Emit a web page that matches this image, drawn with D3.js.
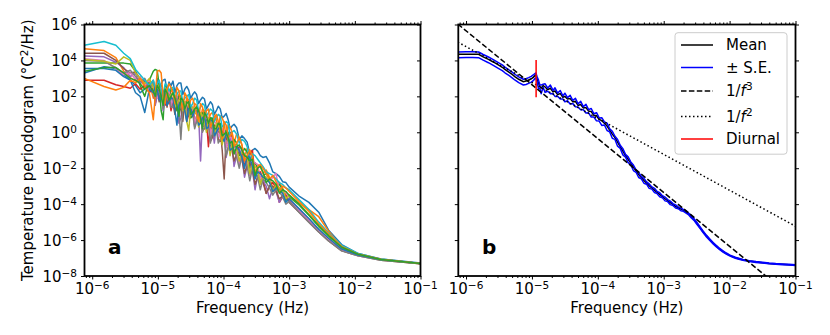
<!DOCTYPE html>
<html>
<head>
<meta charset="utf-8">
<script src="https://cdn.jsdelivr.net/npm/d3@7"></script>
<style>
body { margin: 0; background: #fff; }
text { font-family: "DejaVu Sans", sans-serif; fill: #000; }
</style>
</head>
<body>
<div id="chart"></div>
<script>
// ---- data (log10 values) ----

// shared frequency grid of panel a, log10(Hz)
var logFreqA = [
	-6.12, -5.82, -5.64, -5.52, -5.42, -5.34, -5.27, -5.20, -5.13, -5.07,
	-5.04, -5.01, -4.98, -4.95, -4.92, -4.89, -4.86, -4.83, -4.80, -4.77,
	-4.74, -4.71, -4.68, -4.65, -4.62, -4.59, -4.56, -4.53, -4.50, -4.47,
	-4.44, -4.41, -4.38, -4.35, -4.32, -4.29, -4.26, -4.23, -4.20, -4.17,
	-4.14, -4.11, -4.08, -4.05, -4.02, -3.99, -3.96, -3.93, -3.90, -3.87,
	-3.84, -3.80, -3.76, -3.72, -3.68, -3.64, -3.60, -3.56, -3.52, -3.48,
	-3.44, -3.40, -3.35, -3.30, -3.25, -3.20, -3.15, -3.10, -3.05, -3.00,
	-2.85, -2.70, -2.55, -2.40, -2.20, -1.95, -1.60, -1.00
];

// one periodogram per site, log10(°C²/Hz)
var specBlue1 = [
	3.3, 3.65, 3.55, 3.2, 2.9, 2.6, 2.2, 2.4, 2.9, 2.6,
	2.2, 3.0, 2.5, 2.7, 2.9, 2.95, 2.3, 2.8, 2.6, 2.85,
	2.2, 2.6, 2.75, 2.75, 2.1, 2.4, 2.55, 2.35, 1.9, 2.1,
	2.25, 2.1, 1.6, 1.8, 1.95, 1.85, 1.3, 1.5, 1.7, 1.55,
	1.0, 1.2, 1.45, 1.3, 0.8, 0.9, 1.05, 0.7, 0.2, 0.35,
	0.45, 0.25, -0.4, -0.2, -0.35, -0.55, -1.2, -1.0, -0.9, -1.05,
	-1.3, -1.4, -1.35, -1.7, -2.2, -2.3, -2.45, -2.75, -2.8, -3.05,
	-3.55, -3.9, -4.45, -5.45, -6.25, -6.75, -7.05, -7.28
];
var specOrange1 = [
	4.65, 4.55, 4.15, 3.4, 3.05, 2.85, 3.0, 2.5, 2.8, 1.9,
	2.0, 2.6, 2.7, 2.2, 1.5, 2.5, 2.3, 1.6, 2.3, 2.3,
	1.4, 1.9, 2.1, 2.0, 1.5, 1.4, 1.9, 1.8, 0.9, 1.1,
	1.6, 1.5, 1.0, 0.8, 1.3, 1.2, 0.4, 0.6, 1.0, 1.1,
	0.9, 0.7, 0.2, 0.9, 0.8, 0.5, -0.3, 0.4, 0.3, 0.0,
	-0.6, -0.1, -0.3, -0.7, -1.4, -0.9, -1.0, -1.6, -2.3, -1.8,
	-1.9, -2.3, -2.1, -2.5, -3.1, -2.9, -2.8, -3.1, -3.5, -3.5,
	-3.95, -4.3, -4.7, -5.5, -6.4, -6.8, -7.1, -7.32
];
var specGreen1 = [
	3.85, 3.85, 3.85, 3.85, 3.8, 3.4, 2.6, 2.0, 2.9, 3.4,
	3.5, 3.45, 2.6, 1.2, 0.7, 2.6, 2.2, 2.0, 2.5, 2.3,
	1.6, 1.2, 2.0, 2.0, 1.1, 1.5, 1.7, 1.7, 0.8, 0.9,
	1.3, 1.4, 0.9, 0.6, 1.1, 1.0, 0.2, 0.4, 0.8, 0.8,
	0.1, 0.0, 0.5, 0.5, -0.2, -0.3, 0.1, 0.0, -0.7, -0.6,
	-0.4, -0.6, -1.3, -1.2, -0.9, -1.1, -2.0, -1.8, -1.7, -2.0,
	-2.6, -2.4, -2.3, -2.6, -3.3, -3.0, -2.9, -3.2, -3.8, -3.6,
	-4.05, -4.6, -5.25, -5.8, -6.4, -6.78, -7.08, -7.31
];
var specRed = [
	2.9, 2.9, 2.65, 2.55, 2.45, 2.7, 2.4, 2.6, 2.2, 2.5,
	1.6, 2.0, 2.4, 2.3, 1.8, 1.5, 2.1, 2.0, 1.2, 1.7,
	1.9, 1.9, 1.2, 1.3, 1.6, 1.5, 0.6, 1.0, 1.3, 1.2,
	0.4, 0.6, 1.0, 0.9, 0.3, 0.4, 0.7, -0.8, 0.5, 0.1,
	0.4, 0.3, -0.4, -0.5, 0.1, -0.1, -0.8, -0.6, 0.0, -0.3,
	-1.2, -1.0, -0.8, -0.9, -1.9, -1.5, -1.2, -1.0, -2.4, -2.2,
	-2.2, -2.6, -3.4, -3.0, -2.8, -3.1, -3.9, -3.6, -3.5, -3.8,
	-4.3, -4.9, -5.45, -5.95, -6.5, -6.82, -7.08, -7.3
];
var specPurple = [
	4.25, 4.2, 3.9, 3.6, 3.1, 3.3, 2.7, 2.9, 2.4, 2.7,
	1.5, 2.1, 2.3, 2.4, 1.2, 1.8, 2.1, 2.2, 1.6, 1.5,
	2.0, 1.9, 0.5, 0.8, 1.6, 1.5, 1.1, 1.0, 1.3, 1.3,
	0.3, 0.9, 1.0, -1.6, 0.8, 0.6, 0.2, 0.7, 0.6, 0.2,
	-0.6, 0.4, 0.3, -0.3, -0.5, -0.1, -1.4, -0.8, -0.3, -0.7,
	-1.9, -1.3, -0.9, -1.4, -2.5, -1.9, -1.6, -2.1, -3.2, -2.4,
	-2.5, -2.7, -3.0, -3.7, -3.1, -3.3, -3.9, -3.5, -3.6, -3.85,
	-4.4, -4.95, -5.5, -6.0, -6.55, -6.85, -7.1, -7.31
];
var specBrown = [
	4.4, 4.4, 4.0, 3.55, 3.3, 3.35, 3.0, 2.8, 2.5, 2.9,
	2.4, 2.3, 1.7, 2.6, 2.3, 2.0, 1.4, 2.3, 2.1, 1.6,
	1.0, 2.0, 1.7, 1.3, 0.6, 1.7, 1.5, 0.9, 1.2, 1.3,
	0.8, 0.7, 1.0, 1.0, 0.1, 0.2, 0.7, 0.6, -0.5, -0.3,
	0.3, 0.2, 0.0, 0.1, -1.0, -2.6, -0.2, -0.5, -0.6, -1.0,
	-1.6, -1.2, -1.1, -1.5, -2.3, -1.8, -1.7, -2.1, -2.9, -2.5,
	-2.6, -2.8, -3.4, -3.0, -3.0, -3.3, -3.7, -3.55, -3.6, -3.9,
	-4.45, -5.0, -5.55, -6.05, -6.6, -6.88, -7.12, -7.32
];
var specPink = [
	4.1, 4.0, 3.55, 3.2, 3.3, 2.95, 3.1, 2.6, 2.9, 2.5,
	2.3, 1.9, 2.2, 2.5, 1.6, 2.1, 2.2, 2.3, 1.5, 1.8,
	1.9, 2.0, 1.2, 1.5, 1.7, 1.7, 0.9, 1.2, 1.5, 1.4,
	0.5, 0.9, 1.1, 1.1, 0.3, 0.5, 0.9, 0.8, -0.1, 0.2,
	0.6, 0.5, -0.2, -0.1, 0.2, 0.1, -0.8, -0.6, -0.2, -0.4,
	-0.9, -1.1, -1.8, -1.0, -1.2, -1.5, -2.4, -1.6, -1.7, -1.8,
	-2.6, -2.4, -2.5, -2.8, -2.5, -2.3, -3.3, -3.4, -3.3, -3.7,
	-4.35, -4.9, -5.45, -5.95, -6.55, -6.86, -7.1, -7.31
];
var specGray = [
	4.0, 3.95, 3.6, 3.3, 3.45, 3.1, 2.8, 3.0, 2.5, 2.7,
	1.8, 2.2, 2.1, 2.4, 1.3, 1.9, 2.0, 2.1, 1.4, 1.4,
	1.7, 1.9, 1.3, -0.4, 1.4, 1.6, 0.7, 1.2, 1.2, 1.1,
	0.2, 0.6, 0.9, 0.9, 0.0, 0.3, 0.6, 0.5, -0.6, 0.0,
	0.3, 0.2, -0.6, -0.4, -0.1, -0.3, -1.3, -0.9, -0.6, -0.8,
	-1.0, -1.4, -2.0, -1.3, -1.5, -1.9, -2.7, -2.0, -2.2, -2.5,
	-3.2, -2.6, -2.8, -3.1, -3.5, -3.2, -3.3, -3.6, -4.0, -3.85,
	-4.45, -5.0, -5.55, -6.05, -6.6, -6.88, -7.12, -7.32
];
var specOlive = [
	4.05, 3.95, 3.8, 4.2, 4.0, 3.3, 3.0, 2.7, 3.0, 2.5,
	2.2, 2.7, 2.4, 2.1, 1.7, 2.5, 2.3, 1.9, 2.1, 2.2,
	1.4, 1.6, 1.8, 1.9, 1.2, 1.7, 0.6, 0.1, 1.4, 1.4,
	1.1, 1.0, 0.3, 1.1, 0.9, 0.6, 0.0, 0.8, 0.7, 0.3,
	-0.2, 0.5, 0.4, 0.0, -0.7, -0.1, 0.0, -0.4, -1.3, -0.6,
	-0.6, -0.9, -1.6, -1.1, -1.2, -1.4, -2.3, -1.8, -1.9, -2.1,
	-2.9, -2.4, -2.5, -2.7, -3.3, -2.9, -3.1, -3.2, -3.7, -3.5,
	-4.0, -4.55, -5.2, -5.75, -6.4, -6.8, -7.09, -7.31
];
var specCyan = [
	4.85, 5.05, 4.85, 4.4, 4.1, 3.5, 3.2, 2.9, 2.6, 2.9,
	2.5, 2.7, 2.9, 2.4, 2.0, 2.7, 2.6, 2.3, 2.5, 2.5,
	1.9, 2.1, 2.3, 2.3, 1.7, 1.9, 2.0, 2.1, 1.4, 1.6,
	1.9, 1.8, 1.2, 1.4, 1.6, 1.5, 0.9, 1.1, 1.3, 1.2,
	0.6, 0.8, 1.0, 0.9, 0.3, 0.4, 0.6, 0.5, -0.2, 0.0,
	0.1, -0.1, -0.6, -0.4, -0.5, -0.8, -1.5, -1.2, -1.3, -1.5,
	-1.7, -1.9, -2.2, -2.3, -2.4, -2.6, -2.8, -2.9, -3.1, -3.2,
	-3.75, -4.3, -5.0, -5.6, -6.3, -6.75, -7.06, -7.3
];
var specBlue2 = [
	3.55, 3.55, 3.45, 3.1, 2.9, 2.2, 2.0, 1.1, 2.4, 2.2,
	2.5, 2.4, 1.8, 1.9, 2.3, 2.2, 1.5, 1.7, 1.9, 1.9,
	1.2, 0.4, 1.5, 1.7, 1.4, 1.2, 0.6, 1.5, 1.3, 0.9,
	1.2, 1.2, 0.4, 0.5, 0.8, 0.9, 0.2, 0.3, 0.7, 0.6,
	-0.2, 0.0, 0.2, 0.3, -0.3, -0.5, -0.1, -0.2, -1.0, -0.9,
	-0.8, -0.8, -1.0, -1.4, -2.0, -1.3, -1.4, -1.9, -2.6, -2.2,
	-2.3, -2.5, -2.6, -2.8, -3.3, -3.1, -3.2, -3.4, -3.9, -3.7,
	-4.25, -4.8, -5.4, -5.9, -6.5, -6.83, -7.1, -7.31
];
var specOrange2 = [
	3.0, 2.55, 2.35, 2.5, 2.9, 2.75, 3.0, 2.6, 2.2, 0.7,
	2.0, 3.4, 3.45, 3.3, 2.0, 1.6, 2.4, 2.7, 2.5, 2.2,
	1.6, 2.5, 2.3, 1.7, 1.3, 2.2, 2.0, 1.4, 1.8, 1.9,
	1.5, 1.0, 0.6, 1.6, 1.4, 0.8, 1.2, 1.3, 0.3, 0.5,
	0.8, 1.0, 0.6, 0.2, -0.4, 0.6, 0.4, -0.3, -0.2, 0.0,
	-0.8, -0.6, -0.3, -0.7, -1.6, -1.3, -1.0, -1.3, -2.3, -1.9,
	-1.8, -2.0, -2.3, -2.6, -2.4, -2.75, -3.3, -3.0, -3.1, -3.3,
	-3.85, -4.4, -5.1, -5.65, -6.35, -6.78, -7.07, -7.3
];
var specGreen2 = [
	3.4, 3.6, 3.6, 3.3, 3.0, 2.9, 2.7, 2.4, 2.6, 2.3,
	2.0, 2.6, 2.4, 2.0, 1.5, 2.4, 2.2, 1.8, 2.0, 2.2,
	1.9, 1.5, 0.9, 1.9, 1.8, 1.3, 1.6, 1.7, 1.0, 1.1,
	1.3, 1.4, 1.2, 0.8, 0.2, 1.1, 0.9, 0.5, 0.8, 0.7,
	0.2, 0.2, 0.5, 0.4, -0.2, -0.1, 0.0, -0.3, -0.6, -0.5,
	-1.2, -0.8, -0.7, -1.0, -1.3, -1.4, -1.6, -1.5, -2.4, -2.0,
	-1.9, -2.2, -2.8, -2.6, -2.7, -2.9, -3.4, -3.2, -3.3, -3.5,
	-4.0, -4.6, -5.2, -5.75, -6.4, -6.79, -7.08, -7.31
];

// panel b: [log10 f, log10 mean, standard error as a fraction of the mean]
var meanRows = [
	[-6.12, 4.34, 0.35], [-6.0, 4.35, 0.35], [-5.9, 4.35, 0.35], [-5.81, 4.34, 0.35],
	[-5.74, 4.2, 0.35], [-5.66, 4.06, 0.35], [-5.58, 3.9, 0.35], [-5.51, 3.75, 0.35],
	[-5.45, 3.62, 0.35], [-5.41, 3.5, 0.35], [-5.35, 3.35, 0.35], [-5.30, 3.22, 0.35],
	[-5.26, 3.1, 0.35], [-5.20, 2.95, 0.35], [-5.13, 2.82, 0.35], [-5.09, 2.85, 0.35],
	[-5.05, 2.91, 0.35], [-5.01, 2.98, 0.35], [-4.98, 3.06, 0.35], [-4.955, 3.15, 0.3],
	[-4.94, 3.19, 0.3], [-4.92, 2.95, 0.35], [-4.90, 2.73, 0.5], [-4.88, 2.55, 0.2],
	[-4.86, 2.45, 0.5], [-4.83, 2.6, 0.2], [-4.80, 2.52, 0.5], [-4.76, 2.38, 0.2],
	[-4.72, 2.45, 0.5], [-4.68, 2.25, 0.2], [-4.65, 2.3, 0.5], [-4.61, 2.1, 0.2],
	[-4.57, 2.15, 0.5], [-4.53, 1.95, 0.2], [-4.50, 2.0, 0.5], [-4.46, 1.85, 0.2],
	[-4.42, 1.88, 0.5], [-4.38, 1.7, 0.2], [-4.34, 1.72, 0.5], [-4.30, 1.5, 0.2],
	[-4.26, 1.55, 0.5], [-4.22, 1.35, 0.2], [-4.18, 1.38, 0.5], [-4.14, 1.18, 0.2],
	[-4.10, 1.15, 0.5], [-4.06, 0.95, 0.2], [-4.02, 0.92, 0.48], [-3.98, 0.72, 0.2],
	[-3.94, 0.65, 0.46], [-3.90, 0.5, 0.2], [-3.86, 0.35, 0.44], [-3.82, 0.12, 0.2],
	[-3.78, -0.1, 0.42], [-3.74, -0.3, 0.2], [-3.70, -0.55, 0.4], [-3.66, -0.8, 0.2],
	[-3.62, -1.05, 0.38], [-3.58, -1.3, 0.18], [-3.54, -1.5, 0.36], [-3.50, -1.72, 0.18],
	[-3.46, -1.95, 0.34], [-3.42, -2.15, 0.16], [-3.38, -2.35, 0.32], [-3.34, -2.52, 0.16],
	[-3.30, -2.68, 0.3], [-3.26, -2.82, 0.15], [-3.22, -2.98, 0.28], [-3.18, -3.1, 0.14],
	[-3.14, -3.22, 0.26], [-3.10, -3.35, 0.14], [-3.06, -3.46, 0.25], [-3.02, -3.58, 0.13],
	[-2.98, -3.7, 0.24], [-2.94, -3.8, 0.13], [-2.90, -3.92, 0.22], [-2.86, -4.02, 0.12],
	[-2.82, -4.12, 0.2], [-2.78, -4.2, 0.12], [-2.74, -4.28, 0.18], [-2.70, -4.35, 0.11],
	[-2.66, -4.43, 0.16], [-2.62, -4.55, 0.11], [-2.58, -4.7, 0.15], [-2.54, -4.86, 0.1],
	[-2.50, -5.05, 0.13], [-2.45, -5.3, 0.11], [-2.40, -5.55, 0.11], [-2.35, -5.78, 0.1],
	[-2.30, -5.98, 0.1], [-2.25, -6.17, 0.09], [-2.20, -6.34, 0.09], [-2.15, -6.5, 0.08],
	[-2.10, -6.63, 0.08], [-2.05, -6.75, 0.07], [-2.0, -6.85, 0.07], [-1.95, -6.93, 0.06],
	[-1.9, -7.0, 0.06], [-1.8, -7.1, 0.05], [-1.7, -7.17, 0.05], [-1.6, -7.22, 0.05],
	[-1.5, -7.26, 0.05], [-1.4, -7.3, 0.05], [-1.3, -7.33, 0.05], [-1.2, -7.35, 0.05],
	[-1.1, -7.37, 0.05], [-1.0, -7.39, 0.05]
];

// reference slopes, two end points each (Hz, °C²/Hz)
var slope3Freq = [7.5e-7, 1e-1];
var slope3Power = [1.06e6, 4.47e-10];
var slope2Freq = [7.5e-7, 1e-1];
var slope2Power = [1.05e5, 5.9e-6];

// diurnal cycle
var diurnalFreq = 1.1574e-5;
var diurnalPower = [90, 1.05e4];

var legendLabels = ["Mean", "± S.E.", "1/f3", "1/f2", "Diurnal"];

// ---- layout ----
var W = 830, H = 335;
var plotTop = 24.5, plotBottom = 276;
var panelA = { left: 84.5, right: 420.5 },
	panelB = { left: 458.3, right: 795.5 };
var FONT = 15;

var svg = d3.select("#chart").append("svg")
	.attr("width", W)
	.attr("height", H);

var y = d3.scaleLog().domain([1e-8, 1e6]).range([plotBottom, plotTop]);
var xA = d3.scaleLog().domain([7.63e-7, 0.1]).range([panelA.left, panelA.right]);
var xB = d3.scaleLog().domain([7.63e-7, 0.1]).range([panelB.left, panelB.right]);

var yMajor = d3.range(-8, 7, 2).map(function(e) { return Math.pow(10, e); });

function isDecade(v) {
	var l = Math.log10(v);
	return Math.abs(l - Math.round(l)) < 1e-6;
}

function sup(v) {
	return String(Math.round(Math.log10(v))).replace("-", "\u2212");
}

// ticks and spines for one panel
function frame(g, x, p, rightInward) {
	var xt = x.ticks();
	var xMaj = xt.filter(isDecade),
		xMin = xt.filter(function(v) { return !isDecade(v); });

	function clean(sel) {
		sel.select(".domain").remove();
		sel.selectAll("line").attr("stroke", "#000").attr("stroke-width", 1);
	}

	g.append("g").attr("transform", "translate(0," + plotBottom + ")")
		.call(d3.axisBottom(x).tickValues(xMaj).tickSize(3.5).tickFormat("")).call(clean);
	g.append("g").attr("transform", "translate(0," + plotBottom + ")")
		.call(d3.axisBottom(x).tickValues(xMin).tickSize(2).tickFormat("")).call(clean);
	g.append("g").attr("transform", "translate(0," + plotTop + ")")
		.call(d3.axisTop(x).tickValues(xMaj).tickSize(3.5).tickFormat("")).call(clean);
	g.append("g").attr("transform", "translate(0," + plotTop + ")")
		.call(d3.axisTop(x).tickValues(xMin).tickSize(2).tickFormat("")).call(clean);
	g.append("g").attr("transform", "translate(" + p.left + ",0)")
		.call(d3.axisLeft(y).tickValues(yMajor).tickSize(3.5).tickFormat("")).call(clean);
	g.append("g").attr("transform", "translate(" + p.right + ",0)")
		.call(d3.axisRight(y).tickValues(yMajor).tickSize(rightInward ? -3.5 : 3.5).tickFormat("")).call(clean);

	g.append("rect")
		.attr("x", p.left).attr("y", plotTop)
		.attr("width", p.right - p.left).attr("height", plotBottom - plotTop)
		.attr("fill", "none").attr("stroke", "#000").attr("stroke-width", 1.8);

	// x tick labels 10^n
	var lab = g.selectAll("text.xlab").data(xMaj).enter().append("text")
		.attr("class", "xlab")
		.attr("x", function(d) { return x(d); })
		.attr("y", plotBottom + 18.3)
		.attr("text-anchor", "middle")
		.style("font-size", FONT + "px");
	lab.append("tspan").text("10");
	lab.append("tspan").attr("dy", -5).style("font-size", "10.5px").text(sup);

	g.append("text")
		.attr("x", (p.left + p.right) / 2)
		.attr("y", 312.5)
		.attr("text-anchor", "middle")
		.style("font-size", FONT + "px")
		.text("Frequency (Hz)");
}

function clip(id, p) {
	svg.append("clipPath").attr("id", id)
		.append("rect")
		.attr("x", p.left).attr("y", plotTop)
		.attr("width", p.right - p.left).attr("height", plotBottom - plotTop);
}
clip("clipA", panelA);
clip("clipB", panelB);

// ---- panel a ----
var tab10 = d3.schemeCategory10;
var seriesA = [
	[specBlue1, tab10[0]], [specOrange1, tab10[1]], [specGreen1, tab10[2]],
	[specRed, tab10[3]], [specPurple, tab10[4]], [specBrown, tab10[5]],
	[specPink, tab10[6]], [specGray, tab10[7]], [specOlive, tab10[8]],
	[specCyan, tab10[9]], [specBlue2, tab10[0]], [specOrange2, tab10[1]],
	[specGreen2, tab10[2]]
];

var lineA = d3.line()
	.x(function(d) { return xA(Math.pow(10, d[0])); })
	.y(function(d) { return y(Math.pow(10, d[1])); });

var gA = svg.append("g");
gA.append("g").attr("clip-path", "url(#clipA)")
	.selectAll("path").data(seriesA).enter().append("path")
	.attr("d", function(s) { return lineA(logFreqA.map(function(f, i) { return [f, s[0][i]]; })); })
	.attr("fill", "none")
	.attr("stroke", function(s) { return s[1]; })
	.attr("stroke-width", 1.5)
	.attr("stroke-linejoin", "round");

frame(gA, xA, panelA, true);

// y tick labels (panel a only)
var ylab = gA.selectAll("text.ylab").data(yMajor).enter().append("text")
	.attr("class", "ylab")
	.attr("x", panelA.left - 7.5)
	.attr("y", function(d) { return y(d) + 5.8; })
	.attr("text-anchor", "end")
	.style("font-size", FONT + "px");
ylab.append("tspan").text("10");
ylab.append("tspan").attr("dy", -5).style("font-size", "10.5px").text(sup);

var yTitle = svg.append("text")
	.attr("transform", "translate(33," + ((plotTop + plotBottom) / 2) + ") rotate(-90)")
	.attr("text-anchor", "middle")
	.style("font-size", FONT + "px");
yTitle.append("tspan").text("Temperature periodogram (\u00B0C");
yTitle.append("tspan").attr("dy", -5).style("font-size", "10.5px").text("2");
yTitle.append("tspan").attr("dy", 5).text("/Hz)");

gA.append("text")
	.attr("x", panelA.left + 0.07 * (panelA.right - panelA.left))
	.attr("y", 253.5)
	.style("font-size", "20px").style("font-weight", "bold")
	.text("a");

// ---- panel b ----
var gB = svg.append("g");
var plotB = gB.append("g").attr("clip-path", "url(#clipB)");

var lineB = d3.line()
	.x(function(d) { return xB(d[0]); })
	.y(function(d) { return y(d[1]); });

var meanPts = meanRows.map(function(r) { return [Math.pow(10, r[0]), Math.pow(10, r[1])]; });
var upperPts = meanRows.map(function(r) { return [Math.pow(10, r[0]), Math.pow(10, r[1]) * (1 + r[2])]; });
var lowerPts = meanRows.map(function(r) { return [Math.pow(10, r[0]), Math.pow(10, r[1]) * (1 - r[2])]; });

plotB.append("path").attr("d", lineB(meanPts))
	.attr("fill", "none").attr("stroke", "#000").attr("stroke-width", 1.5);
[upperPts, lowerPts].forEach(function(pts) {
	plotB.append("path").attr("d", lineB(pts))
		.attr("fill", "none").attr("stroke", "#0000ff").attr("stroke-width", 1.5)
		.attr("stroke-linejoin", "round");
});
plotB.append("path")
	.attr("d", lineB(slope3Freq.map(function(f, i) { return [f, slope3Power[i]]; })))
	.attr("fill", "none").attr("stroke", "#000").attr("stroke-width", 1.5)
	.attr("stroke-dasharray", "5.5,2.4");
plotB.append("path")
	.attr("d", lineB(slope2Freq.map(function(f, i) { return [f, slope2Power[i]]; })))
	.attr("fill", "none").attr("stroke", "#000").attr("stroke-width", 1.5)
	.attr("stroke-dasharray", "1.5,2.5");
plotB.append("path")
	.attr("d", lineB(diurnalPower.map(function(p) { return [diurnalFreq, p]; })))
	.attr("fill", "none").attr("stroke", "#ff0000").attr("stroke-width", 1.5);

frame(gB, xB, panelB, false);

gB.append("text")
	.attr("x", panelB.left + 0.07 * (panelB.right - panelB.left))
	.attr("y", 254)
	.style("font-size", "20px").style("font-weight", "bold")
	.text("b");

// legend
var legend = gB.append("g");
legend.append("rect")
	.attr("x", 675).attr("y", 32.7).attr("width", 112).attr("height", 121.5)
	.attr("rx", 3).attr("fill", "#fff").attr("fill-opacity", 0.8)
	.attr("stroke", "#cccccc").attr("stroke-width", 1);

var legendRows = [45, 67.5, 91, 116.5, 139];
var legendStyles = [
	{ color: "#000", dash: null },
	{ color: "#0000ff", dash: null },
	{ color: "#000", dash: "5.5,2.4" },
	{ color: "#000", dash: "1.5,2.5" },
	{ color: "#ff0000", dash: null }
];
legendLabels.forEach(function(lbl, i) {
	var ly = legendRows[i];
	legend.append("line")
		.attr("x1", 681).attr("x2", 713).attr("y1", ly).attr("y2", ly)
		.attr("stroke", legendStyles[i].color).attr("stroke-width", 1.5)
		.attr("stroke-dasharray", legendStyles[i].dash);
	var t = legend.append("text")
		.attr("x", 726).attr("y", ly + 5.3)
		.style("font-size", FONT + "px");
	if (lbl.indexOf("1/f") === 0) {
		t.append("tspan").text("1/");
		t.append("tspan").style("font-style", "italic").text("f");
		t.append("tspan").attr("dy", -6).style("font-size", "10.5px").text(lbl.slice(3));
	} else {
		t.text(lbl);
	}
});
</script>
</body>
</html>
